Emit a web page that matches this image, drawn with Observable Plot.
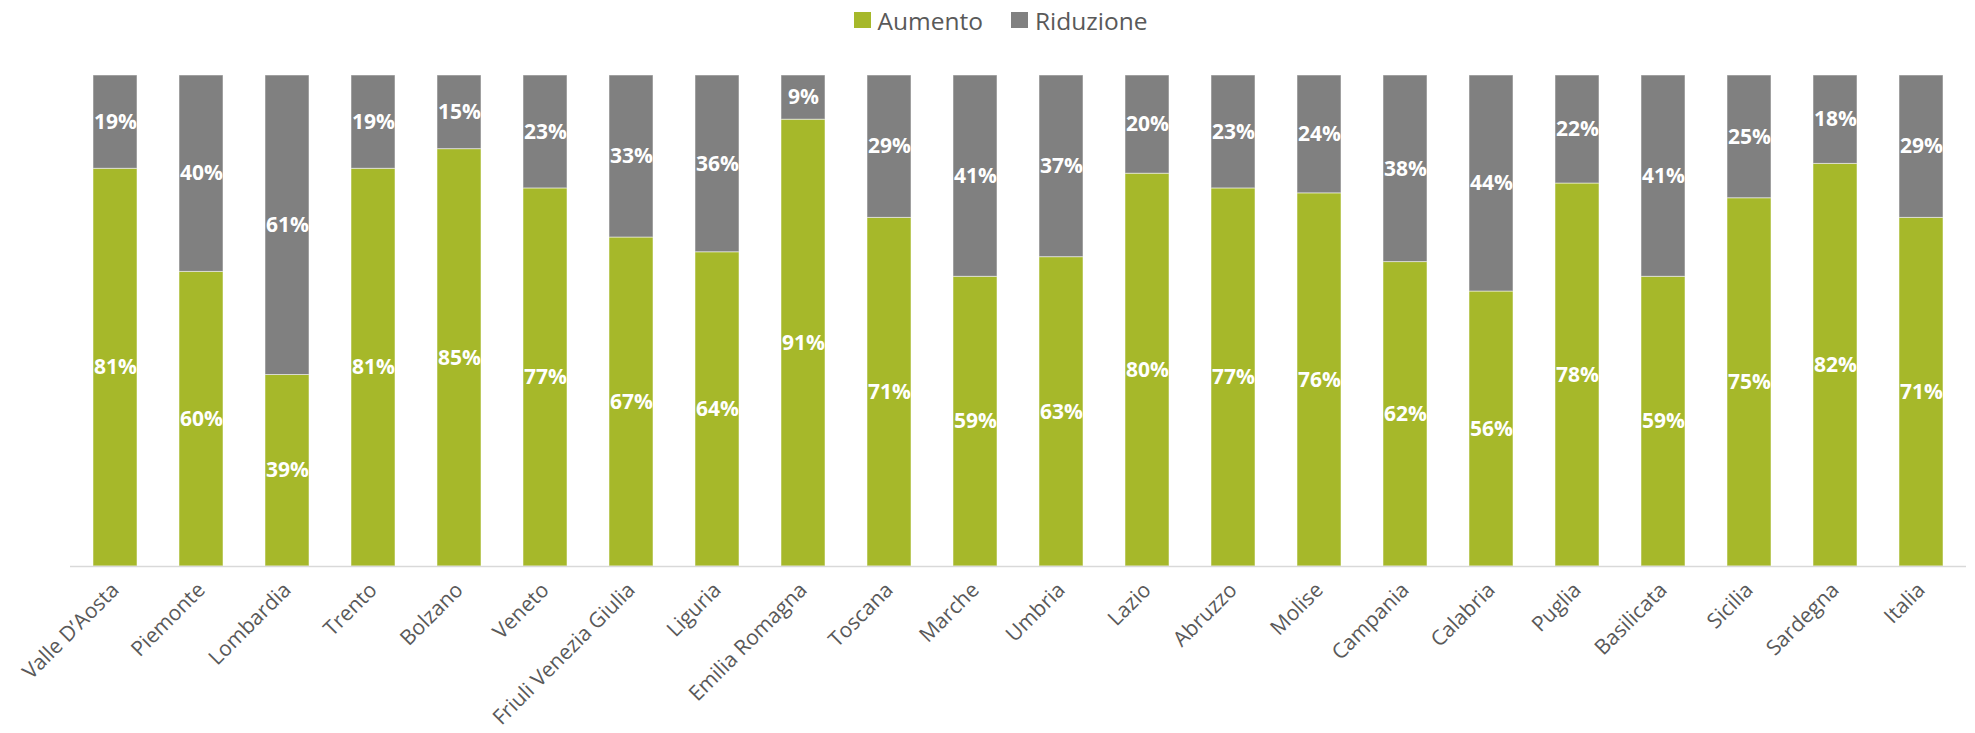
<!DOCTYPE html>
<html>
<head>
<meta charset="utf-8">
<script src="https://cdn.jsdelivr.net/npm/d3@7"></script>
<script src="https://cdn.jsdelivr.net/npm/@observablehq/plot@0.6"></script>
<style>
  html, body { margin: 0; padding: 0; background: #fff; }
  #legend { height: 40px; display: flex; justify-content: center; align-items: center; padding-left: 26px;
    font-family: "Open Sans", sans-serif; font-size: 24.5px; color: #595959; }
  .item { display: flex; align-items: center; margin: 0 14px; }
  .sw { width: 17px; height: 16px; margin-right: 7px; }
</style>
</head>
<body>
<div id="legend"></div>
<div id="chart"></div>
<script>
const regions = ["Valle D’Aosta", "Piemonte", "Lombardia", "Trento", "Bolzano", "Veneto", "Friuli Venezia Giulia", "Liguria", "Emilia Romagna", "Toscana", "Marche", "Umbria", "Lazio", "Abruzzo", "Molise", "Campania", "Calabria", "Puglia", "Basilicata", "Sicilia", "Sardegna", "Italia"];
const aumento   = [81, 60, 39, 81, 85, 77, 67, 64, 91, 71, 59, 63, 80, 77, 76, 62, 56, 78, 59, 75, 82, 71];
const riduzione = [19, 40, 61, 19, 15, 23, 33, 36, 9, 29, 41, 37, 20, 23, 24, 38, 44, 22, 41, 25, 18, 29];
const seriesNames = ["Aumento", "Riduzione"];
const seriesColors = ["#A6B82A", "#808080"];

const data = [];
regions.forEach((r, i) => {
  data.push({region: r, series: seriesNames[0], value: aumento[i] / 100});
  data.push({region: r, series: seriesNames[1], value: riduzione[i] / 100});
});

const legend = document.getElementById("legend");
seriesNames.forEach((s, i) => {
  const it = document.createElement("div");
  it.className = "item";
  it.innerHTML = `<span class="sw" style="background:${seriesColors[i]}"></span><span>${s}</span>`;
  legend.appendChild(it);
});

const chart = Plot.plot({
  width: 1975,
  height: 693,
  marginTop: 35,
  marginBottom: 167,
  marginLeft: 70,
  marginRight: 9,
  style: {fontFamily: "'Open Sans', sans-serif", background: "#fff"},
  x: {domain: regions, paddingInner: 0.49, paddingOuter: 0.245, label: null},
  y: {domain: [0, 1], axis: null},
  color: {domain: seriesNames, range: seriesColors},
  marks: [
    Plot.barY(data, Plot.stackY({x: "region", y: "value", fill: "series", order: seriesNames, stroke: "#ffffff", strokeOpacity: 0.5, strokeWidth: 1})),
    Plot.ruleY([0], {stroke: "#D9D9D9", strokeWidth: 1.5}),
    Plot.text(data, Plot.stackY({x: "region", y: "value", z: "series", order: seriesNames,
      text: d => Math.round(d.value * 100) + "%", fill: "white", fontWeight: "bold", fontSize: 21})),
    Plot.axisX({tickRotate: -45, tickSize: 0, tickPadding: 20, fontSize: 21, color: "#595959", label: null})
  ]
});
document.getElementById("chart").appendChild(chart);
</script>
</body>
</html>
